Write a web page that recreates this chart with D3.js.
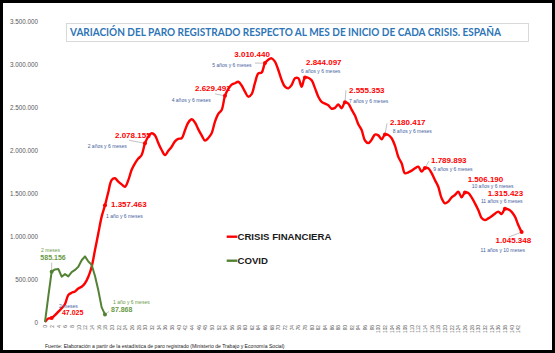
<!DOCTYPE html>
<html><head><meta charset="utf-8">
<script src="https://cdn.jsdelivr.net/npm/d3@7"></script>
<style>body{margin:0;background:#fff}svg{display:block}</style>
</head><body><svg id="c" width="555" height="353"></svg>
<script>
// ---------- DATA ----------
const months = d3.range(0, 144);
const crisisValues = [
  0, 40000, 47025, 80000, 120000, 160000, 209000, 314000, 340000, 355000,
  390000, 410000, 450000, 527000, 643000, 837000, 1031000, 1225000, 1357463, 1512000,
  1651000, 1671000, 1631000, 1600000, 1573000, 1650000, 1770000, 1845000, 1900000, 1942000,
  2078155, 2155000, 2194000, 2170000, 2080000, 2000000, 1942000, 1990000, 2038000, 2100000,
  2130000, 2136000, 2230000, 2320000, 2357000, 2320000, 2240000, 2170000, 2110000, 2140000,
  2194000, 2330000, 2420000, 2465000, 2629491, 2710000, 2760000, 2776000, 2794000, 2750000,
  2678000, 2620000, 2650000, 2780000, 2890000, 2900000, 3010440, 3050000, 3066000, 3027000,
  2930000, 2814000, 2736000, 2717000, 2756000, 2834000, 2834000, 2736000, 2844097, 2840000,
  2810000, 2720000, 2620000, 2560000, 2540000, 2520000, 2480000, 2490000, 2530000, 2485000,
  2555353, 2540000, 2470000, 2400000, 2300000, 2232000, 2110000, 2080000, 2120000, 2180000,
  2170000, 2124000, 2180417, 2174000, 2136000, 2050000, 1920000, 1845000, 1729000, 1740000,
  1760000, 1787000, 1806000, 1748000, 1789893, 1787000, 1730000, 1650000, 1573000, 1438000,
  1380000, 1400000, 1450000, 1477000, 1515000, 1450000, 1506190, 1500000, 1450000, 1380000,
  1302000, 1210000, 1186000, 1205000, 1230000, 1260000, 1283000, 1256000, 1315423, 1310000,
  1280000, 1225000, 1128000, 1045348
];
const covidValues = [0, 302265, 585156, 611729, 616836, 526987, 556767, 530438, 579996, 605265,
  642090, 718306, 762742, 703593, 664581, 535203, 368292, 170451, 87868];
const yTicks = [0, 500000, 1000000, 1500000, 2000000, 2500000, 3000000, 3500000];
const xTickLabels = months.filter(m => m % 2 === 0);
const seriesNames = ["CRISIS FINANCIERA", "COVID"];
const titleText = "VARIACIÓN DEL PARO REGISTRADO RESPECTO AL MES DE INICIO DE CADA CRISIS. ESPAÑA";
const sourceText = "Fuente: Elaboración a partir de la estadística de paro registrado (Ministerio de Trabajo y Economía Social)";

const crisisNoteMonths = [2, 18, 30, 54, 66, 78, 90, 102, 114, 126, 138, 143];
const crisisNoteValues = ["47.025","1.357.463","2.078.155","2.629.491","3.010.440","2.844.097","2.555.353","2.180.417","1.789.893","1.506.190","1.315.423","1.045.348"];
const crisisNotePeriods = ["2 meses","1 año y 6 meses","2 años y 6 meses","4 años y 6 meses","5 años y 6 meses","6 años y 6 meses","7 años y 6 meses","8 años y 6 meses","9 años y 6 meses","10 años y 6 meses","11 años y 6 meses","11 años y 10 meses"];
const covidNoteMonths = [2, 18];
const covidNoteValues = ["585.156", "87.868"];
const covidNotePeriods = ["2 meses", "1 año y 6 meses"];

// ---------- LAYOUT (label offsets relative to point) ----------
const crisisLabelLayout = [
  {vx:10.3, vy:-3, px:7.3, py:-11.3, vs:7, lead:null},
  {vx:6, vy:2, px:1, py:10.7, vs:8, lead:null},
  {vx:-30, vy:-5, px:-57.3, py:3.4, vs:8, lead:[-16,-3]},
  {vx:-30, vy:-5.2, px:-53.3, py:4.8, vs:8, lead:[-10,-2]},
  {vx:-30.7, vy:-6.4, px:-52.7, py:2.6, vs:8, lead:[-10,0]},
  {vx:1, vy:-12.4, px:-4, py:-5.7, vs:8, lead:null},
  {vx:4, vy:-9.5, px:4, py:-0.9, vs:8, lead:[1,-12]},
  {vx:5, vy:-9.5, px:7.7, py:-2.8, vs:8, lead:[2,-11]},
  {vx:6, vy:-4.8, px:8.3, py:1.2, vs:8, lead:[4,-7]},
  {vx:2.7, vy:-10.8, px:6.7, py:-6.5, vs:8, lead:null},
  {vx:-17.3, vy:-13.2, px:-24, py:-7.9, vs:8, lead:null},
  {vx:-26, vy:11.2, px:-41, py:18.6, vs:8, lead:[-13,5]}
];
const covidLabelLayout = [
  {vx:-11.3, vy:-11.7, px:-10.6, py:-21.4, vs:7, lead:[0,-9]},
  {vx:6, vy:-2.3, px:8, py:-12.3, vs:7, lead:[4,-3]}
];

// ---------- CHART ----------
const W = 555, H = 353;
const svg = d3.select("#c");
const F = "'Liberation Sans', Arial, sans-serif";
const RED = "#ff0000", GREEN = "#548235", BLUE = "#44619d", GREY = "#595959";

svg.append("rect").attr("x",0).attr("y",0).attr("width",W).attr("height",H).attr("fill","#fff");

const x = d3.scalePoint().domain(months).range([45, 45 + 143 * 3.333]);
const y = d3.scaleLinear().domain([0, 3500000]).range([322, 21]);

const loc = d3.formatLocale({decimal: ",", thousands: ".", grouping: [3], currency: ["", "€"]});
const fmt = loc.format(",d");

// y axis
const ya = svg.append("g").attr("transform", "translate(40,0)")
  .call(d3.axisLeft(y).tickValues(yTicks).tickSize(0).tickPadding(2).tickFormat(fmt));
ya.select(".domain").remove();
ya.selectAll("text").attr("font-family", F).attr("font-size", 6.3).attr("fill", GREY);

// x axis
const xa = svg.append("g").attr("transform", "translate(0,323)")
  .call(d3.axisBottom(x).tickValues(xTickLabels).tickSize(0).tickPadding(0));
xa.select(".domain").remove();
xa.selectAll("text").attr("font-family", F).attr("font-size", 4.8).attr("fill", GREY)
  .attr("transform", "rotate(-90)").attr("text-anchor", "end").attr("dy", "0.35em")
  .attr("x", -2).attr("y", 0);

// title
svg.append("rect").attr("x", 66.5).attr("y", 23.5).attr("width", 462).attr("height", 18)
  .attr("fill", "#fff").attr("stroke", "#d0d0d0").attr("stroke-width", 0.8);
svg.append("text").attr("x", 70).attr("y", 36.2).text(titleText)
  .attr("font-family", "Lato, 'Open Sans', sans-serif").attr("font-weight", "bold")
  .attr("font-size", 10.6).attr("fill", "#2e75b6")
  .attr("textLength", 431).attr("lengthAdjust", "spacingAndGlyphs");

// lines
const crisisData = months.map((m, i) => ({m, v: crisisValues[i]}));
const covidData = covidValues.map((v, i) => ({m: months[i], v}));
svg.append("path").datum(crisisData)
  .attr("d", d3.line().x(d => x(d.m)).y(d => y(d.v)).curve(d3.curveCatmullRom.alpha(0.5)))
  .attr("fill", "none").attr("stroke", RED).attr("stroke-width", 2.4).attr("stroke-linejoin", "round");
svg.append("path").datum(covidData)
  .attr("d", d3.line().x(d => x(d.m)).y(d => y(d.v)))
  .attr("fill", "none").attr("stroke", GREEN).attr("stroke-width", 2).attr("stroke-linejoin", "round");

// annotations
function annotate(noteMonths, noteValues, notePeriods, layout, values, color, valColor, perColor) {
  noteMonths.forEach((m, i) => {
    const L = layout[i];
    const px = x(m), py = y(values[months.indexOf(m)]);
    if (L.lead) {
      svg.append("line").attr("x1", px + L.lead[0]).attr("y1", py + L.lead[1]).attr("x2", px).attr("y2", py)
        .attr("stroke", "#a6a6a6").attr("stroke-width", 0.7);
    }
    svg.append("circle").attr("cx", px).attr("cy", py).attr("r", 2).attr("fill", color);
    svg.append("text").attr("x", px + L.vx).attr("y", py + L.vy).text(noteValues[i])
      .attr("font-family", F).attr("font-weight", "bold").attr("font-size", L.vs).attr("fill", valColor);
    svg.append("text").attr("x", px + L.px).attr("y", py + L.py).attr("dy", "0.35em").text(notePeriods[i])
      .attr("font-family", F).attr("font-size", 5).attr("fill", typeof perColor === "function" ? perColor(i) : perColor);
  });
}
annotate(crisisNoteMonths, crisisNoteValues, crisisNotePeriods, crisisLabelLayout, crisisValues, RED, RED, BLUE);
annotate(covidNoteMonths, covidNoteValues, covidNotePeriods, covidLabelLayout, covidValues, GREEN, "#6a9a45", "#6a9a45");

// legend
const leg = svg.append("g");
[RED, GREEN].forEach((c, i) => {
  const ly = 236.7 + i * 24;
  leg.append("line").attr("x1", 226.7).attr("x2", 237.3).attr("y1", ly).attr("y2", ly)
    .attr("stroke", c).attr("stroke-width", 2.4);
  leg.append("text").attr("x", 237.5).attr("y", ly + 3.4).text(seriesNames[i])
    .attr("font-family", F).attr("font-weight", "bold").attr("font-size", 9.6).attr("fill", "#1a1a1a");
});

// source
svg.append("text").attr("x", 45).attr("y", 347.5).text(sourceText)
  .attr("font-family", F).attr("font-size", 5.1).attr("fill", "#1a1a1a");

// frame
svg.append("rect").attr("x", 1.5).attr("y", 1.5).attr("width", W - 3).attr("height", H - 3)
  .attr("fill", "none").attr("stroke", "#000").attr("stroke-width", 3);
</script>
</body></html>
